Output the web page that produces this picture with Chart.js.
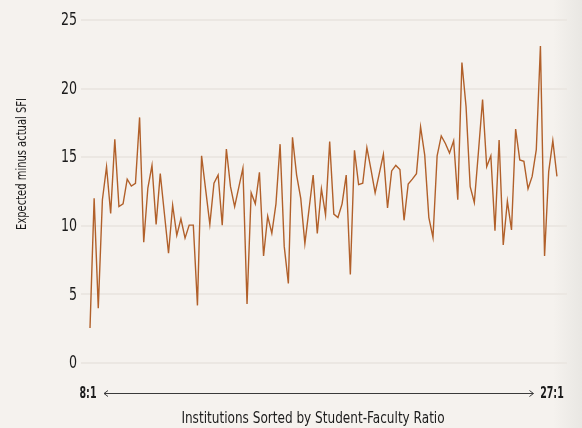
<!DOCTYPE html>
<html>
<head>
<meta charset="utf-8">
<script src="https://cdn.jsdelivr.net/npm/chart.js@4"></script>
<style>
  html, body { margin: 0; padding: 0; }
  body {
    width: 582px; height: 428px; overflow: hidden;
    background: linear-gradient(to right, #f5f2ee 0%, #f5f2ee 95%, #e9e7e3 100%);
  }
  #wrap { position: relative; width: 582px; height: 428px; }
</style>
</head>
<body>
<div id="wrap"><canvas id="sfiChart"></canvas></div>
<script>
// institutions, sorted by student-faculty ratio (low -> high)
const sfiGap = [
  2.55, 12.0, 4.0, 11.9, 14.3, 10.9, 16.3, 11.4, 11.6, 13.4,
  12.9, 13.1, 17.9, 8.8, 12.75, 14.4, 10.1, 13.8, 10.9, 8.0,
  11.5, 9.3, 10.5, 9.1, 10.05, 10.05, 4.2, 15.1, 12.6, 10.1,
  13.1, 13.7, 10.05, 15.6, 12.85, 11.4, 12.8, 14.2, 4.3, 12.4,
  11.6, 13.9, 7.8, 10.7, 9.45, 11.6, 15.95, 8.5, 5.8, 16.45,
  13.7, 12.0, 8.7, 11.2, 13.7, 9.45, 12.7, 10.8, 16.15, 10.85,
  10.6, 11.6, 13.7, 6.45, 15.5, 13.0, 13.1, 15.7, 14.1, 12.4,
  13.8, 15.2, 11.3, 14.0, 14.4, 14.1, 10.4, 13.05, 13.4, 13.8,
  17.2, 15.15, 10.6, 9.15, 15.1, 16.55, 16.0, 15.3, 16.2, 11.9,
  21.9, 18.7, 12.85, 11.7, 15.4, 19.2, 14.3, 15.1, 9.65, 16.25,
  8.6, 11.8, 9.7, 17.05, 14.8, 14.7, 12.7, 13.6, 15.55, 23.1,
  7.8, 13.95, 16.2, 13.6
];
const yTicks = [0, 5, 10, 15, 20, 25];
const rangeLabels = ['8:1', '27:1'];
const yTitle = 'Expected minus actual SFI';
const xTitle = 'Institutions Sorted by Student-Faculty Ratio';

const FONT = "'Liberation Sans Narrow', 'DejaVu Sans Condensed', 'Roboto', sans-serif";
const INK = '#1b1b1b';

const points = sfiGap.map((v, i) => ({ x: i, y: v }));

// squeeze text horizontally, the original uses a narrow gothic face
function narrowText(ctx, text, x, y, sx, align) {
  ctx.save();
  ctx.translate(x, y);
  ctx.scale(sx, 1);
  ctx.textAlign = align;
  ctx.fillText(text, 0, 0);
  ctx.restore();
}

// tick labels, axis titles + the sorted-by arrow
const decor = {
  id: 'decor',
  afterDraw(chart) {
    const { ctx, chartArea: a, scales: { x, y } } = chart;
    const x0 = x.getPixelForValue(0), x1 = x.getPixelForValue(sfiGap.length - 1);
    const ay = a.bottom + 30.5;
    ctx.save();
    ctx.fillStyle = INK;
    ctx.textBaseline = 'middle';

    ctx.font = '18px ' + FONT;
    yTicks.forEach(v => narrowText(ctx, String(v), a.left - 4, y.getPixelForValue(v) + 0.5, 0.78, 'right'));

    ctx.font = 'bold 16.5px ' + FONT;
    narrowText(ctx, rangeLabels[0], x0 - 2, ay, 0.64, 'center');
    narrowText(ctx, rangeLabels[1], x1 - 5, ay, 0.64, 'center');

    ctx.strokeStyle = '#3a3a3a';
    ctx.lineWidth = 1;
    const l = x0 + 14, r = x1 - 23.5;
    ctx.beginPath();
    ctx.moveTo(l, ay); ctx.lineTo(r, ay);
    ctx.moveTo(l + 4, ay - 3); ctx.lineTo(l, ay); ctx.lineTo(l + 4, ay + 3);
    ctx.moveTo(r - 4, ay - 3); ctx.lineTo(r, ay); ctx.lineTo(r - 4, ay + 3);
    ctx.stroke();

    ctx.font = '16px ' + FONT;
    narrowText(ctx, xTitle, 313, a.bottom + 56, 0.84, 'center');

    ctx.translate(22, 164);
    ctx.rotate(-Math.PI / 2);
    ctx.font = '14px ' + FONT;
    narrowText(ctx, yTitle, 0, 0, 0.79, 'center');
    ctx.restore();
  }
};

new Chart(document.getElementById('sfiChart'), {
  type: 'line',
  data: {
    datasets: [{
      data: points,
      borderColor: '#b1602a',
      borderWidth: 1.4,
      pointRadius: 0,
      tension: 0,
      fill: false
    }]
  },
  options: {
    responsive: true,
    maintainAspectRatio: false,
    animation: false,
    layout: { padding: { top: 20, right: 15, bottom: 65, left: 0 } },
    plugins: { legend: { display: false }, tooltip: { enabled: false } },
    scales: {
      x: {
        type: 'linear',
        display: false,
        min: -2.18,
        max: 115.43
      },
      y: {
        min: 0,
        max: 25,
        afterFit: (s) => { s.width = 81; },
        afterBuildTicks: (s) => { s.ticks = yTicks.map(v => ({ value: v })); },
        border: { display: false },
        grid: { color: '#ebe7e2', lineWidth: 2, drawTicks: false },
        ticks: { display: false }
      }
    }
  },
  plugins: [decor]
});
</script>
</body>
</html>
